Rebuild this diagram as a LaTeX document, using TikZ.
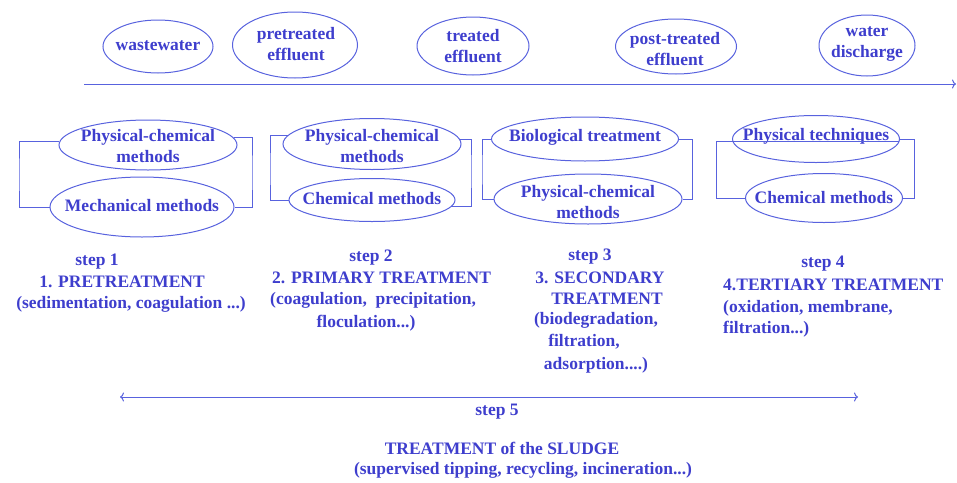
\documentclass[tikz,border=0pt]{standalone}
\usepackage{fontspec}
\setmainfont{Liberation Serif}
\usetikzlibrary{shapes.geometric,arrows.meta}
\definecolor{txtblue}{RGB}{62,62,205}
\definecolor{lineblue}{RGB}{88,98,222}
\begin{document}
\begin{tikzpicture}[x=1pt,y=-1pt,
  every node/.style={text=txtblue,font=\bfseries\fontsize{17.5}{21}\selectfont},
  oval/.style={ellipse,draw=lineblue,line width=1pt,inner sep=0pt},
  lbl/.style={inner sep=0pt,align=center},
  conn/.style={draw=lineblue,line width=1pt},
  ]
\useasboundingbox (0,0) rectangle (957,482);
% ---- top row
\node[oval,minimum width=110,minimum height=53] (ww) at (158,46.5) {};
\node[lbl] (wwt) at (158,46) {wastewater};
\node[oval,minimum width=125,minimum height=66] (pe) at (295,45) {};
\node[lbl] (pet) at (296,44.5) {pretreated\\effluent};
\node[oval,minimum width=112,minimum height=58] (te) at (473,46) {};
\node[lbl] (tet) at (473,46.5) {treated\\effluent};
\node[oval,minimum width=121,minimum height=55] (pte) at (676,46.5) {};
\node[lbl] (ptet) at (675,49.5) {post-treated\\effluent};
\node[oval,minimum width=96,minimum height=61] (wd) at (867,45.5) {};
\node[lbl] (wdt) at (867,44) {water\\discharge};
\coordinate (fs) at (84,84);
\coordinate (fe) at (956,84);
\draw[conn,-{To[length=4pt,width=9pt]}] (fs) -- (fe);
% ---- step 1 group
\node[oval,minimum width=178,minimum height=50] (pc1) at (148,145) {};
\node[lbl] (pc1t) at (148,146) {Physical-chemical\\methods};
\node[oval,minimum width=184,minimum height=60] (me1) at (142,207) {};
\node[lbl] (me1t) at (142,206) {Mechanical methods};
\coordinate (b1l) at (19,175);
\coordinate (b1r) at (252,173);
\draw[conn] (pc1.178) -| (b1l) |- (me1.west);
\draw[conn] (pc1.5) -| (b1r) |- (me1.east);
% ---- step 2 group
\node[oval,minimum width=178,minimum height=51] (pc2) at (372,144) {};
\node[lbl] (pc2t) at (372,146) {Physical-chemical\\methods};
\node[oval,minimum width=166,minimum height=43] (ch2) at (372,200) {};
\node[lbl] (ch2t) at (372,199) {Chemical methods};
\coordinate (b2l) at (270,170);
\coordinate (b2r) at (471,170);
\draw[conn] (pc2.174) -| (b2l) |- (ch2.west);
\draw[conn] (pc2.3) -| (b2r) |- (ch2.-5);
% ---- step 3 group
\node[oval,minimum width=187,minimum height=44] (bio3) at (585,139) {};
\node[lbl] (bio3t) at (585,137) {Biological treatment};
\node[oval,minimum width=188,minimum height=50] (pc3) at (588,199) {};
\node[lbl] (pc3t) at (588,202) {Physical-chemical\\methods};
\coordinate (b3l) at (482,170);
\coordinate (b3r) at (692,170);
\draw[conn] (bio3.west) -| (b3l) |- (pc3.west);
\draw[conn] (bio3.east) -| (b3r) |- (pc3.east);
% ---- step 4 group
\node[oval,minimum width=167,minimum height=47] (pt4) at (816,139) {};
\node[lbl] (pt4t) at (816,136) {Physical techniques};
\node[oval,minimum width=157,minimum height=49] (ch4) at (824,198) {};
\node[lbl] (ch4t) at (824,198) {Chemical methods};
\coordinate (b4l) at (716,170);
\coordinate (b4r) at (914,170);
\draw[conn] (pt4.-2) -| (b4l) |- (ch4.west);
\draw[conn] (pt4.east) -| (b4r) |- (ch4.east);
% ---- step labels
\node[lbl] (s1a) at (97,262) {step 1};
\node[lbl] (s1b) at (122,282) {1. PRETREATMENT};
\node[lbl] (s1c) at (131,304) {(sedimentation, coagulation ...)};
\node[lbl] (s2a) at (371,258) {step 2};
\node[lbl,anchor=west] (s2b) at (272,278) {2. PRIMARY TREATMENT};
\node[lbl,anchor=west] (s2c) at (270,300) {(coagulation,\ \ precipitation,};
\node[lbl] (s2d) at (366,323) {floculation...)};
\node[lbl] (s3a) at (590,257) {step 3};
\node[lbl] (s3b) at (600,278) {3. SECONDARY};
\node[lbl] (s3c) at (607,299) {TREATMENT};
\node[lbl] (s3d) at (596,320) {(biodegradation,};
\node[lbl] (s3e) at (584,342) {filtration,};
\node[lbl] (s3f) at (596,365) {adsorption....)};
\node[lbl] (s4a) at (823,264) {step 4};
\node[lbl,anchor=west] (s4b) at (723,285) {4.TERTIARY TREATMENT};
\node[lbl,anchor=west] (s4c) at (723,308) {(oxidation, membrane,};
\node[lbl,anchor=west] (s4d) at (723,329) {filtration...)};
% ---- step 5
\coordinate (ss) at (120,397);
\coordinate (se) at (858,397);
\draw[conn,{To[length=4pt,width=9pt]}-{To[length=4pt,width=9pt]}] (ss) -- (se);
\node[lbl] (s5a) at (497,412) {step 5};
\node[lbl] (s5b) at (502,448) {TREATMENT of the SLUDGE};
\node[lbl] (s5c) at (523,470) {(supervised tipping, recycling, incineration...)};
\end{tikzpicture}
\end{document}
